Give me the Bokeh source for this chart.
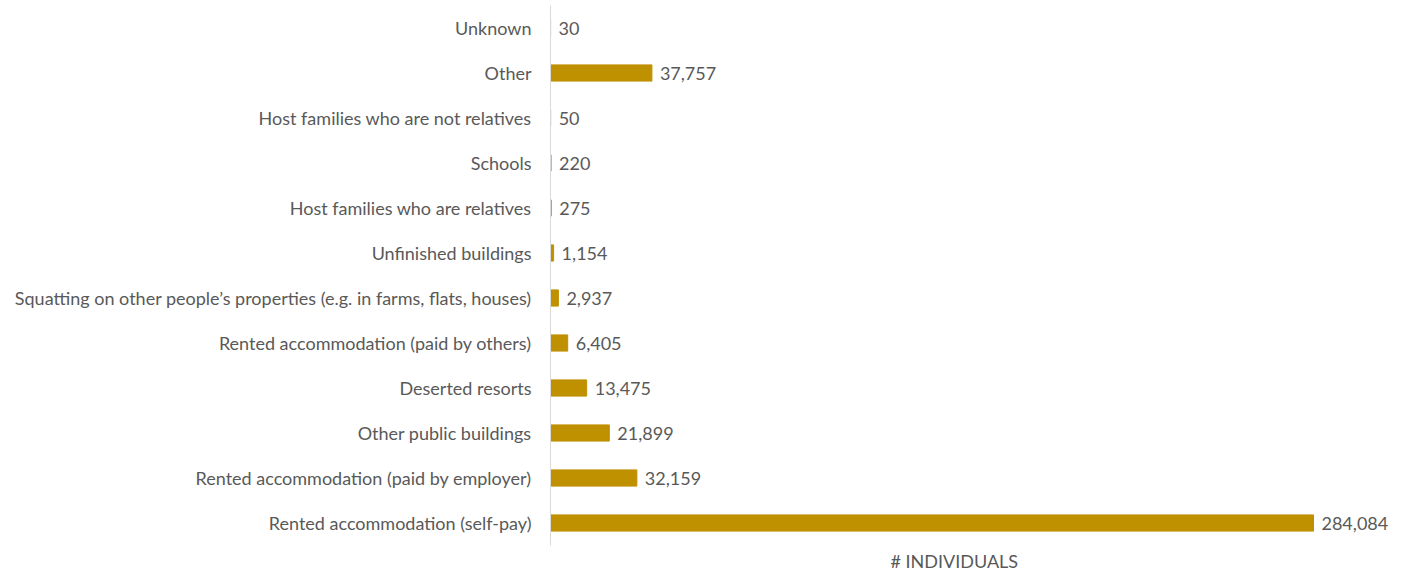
from bokeh.plotting import figure
from bokeh.models import ColumnDataSource, Title
from bokeh.core.properties import value
from bokeh.embed import file_html
from bokeh.resources import INLINE

# Shelter type, listed bottom to top
categories = [
    "Rented accommodation (self-pay)",
    "Rented accommodation (paid by employer)",
    "Other public buildings",
    "Deserted resorts",
    "Rented accommodation (paid by others)",
    "Squatting on other people\u2019s properties (e.g. in farms, flats, houses)",
    "Unfinished buildings",
    "Host families who are relatives",
    "Schools",
    "Host families who are not relatives",
    "Other",
    "Unknown",
]
individuals = [284084, 32159, 21899, 13475, 6405, 2937, 1154, 275, 220, 50, 37757, 30]
value_labels = [f"{v:,}" for v in individuals]

FONT = "Lato"
FONT_SIZE = "18px"
TEXT_COLOR = "#595959"
BAR_COLOR = "#BF9000"

source = ColumnDataSource(dict(cat=categories, val=individuals, lbl=value_labels))

p = figure(
    frame_width=850, frame_height=540,
    y_range=categories,
    x_range=(0, 316480),
    output_backend="svg",
    toolbar_location=None,
    min_border_left=550, min_border_right=6,
    min_border_top=5, min_border_bottom=0,
)

p.hbar(y="cat", right="val", left=0, height=0.36, color=BAR_COLOR, source=source)

p.text(x="val", y="cat", text="lbl", source=source,
       x_offset=8, text_baseline="middle", text_align="left",
       text_font=value(FONT), text_font_size=FONT_SIZE, text_color=TEXT_COLOR)

p.xaxis.visible = False
p.add_layout(Title(text="# INDIVIDUALS", align="left", offset=340, text_font=FONT,
                   text_font_size=FONT_SIZE, text_font_style="normal",
                   text_color=TEXT_COLOR, standoff=4), "below")

yax = p.yaxis[0]
yax.axis_line_color = "#D9D9D9"
yax.axis_line_width = 1
yax.major_tick_line_color = None
yax.minor_tick_line_color = None
yax.major_label_standoff = 13
yax.major_label_text_font = FONT
yax.major_label_text_font_size = FONT_SIZE
yax.major_label_text_color = TEXT_COLOR

p.xgrid.visible = False
p.ygrid.visible = False
p.outline_line_color = None
p.y_range.range_padding = 0

open("out.html", "w").write(file_html(p, INLINE))
